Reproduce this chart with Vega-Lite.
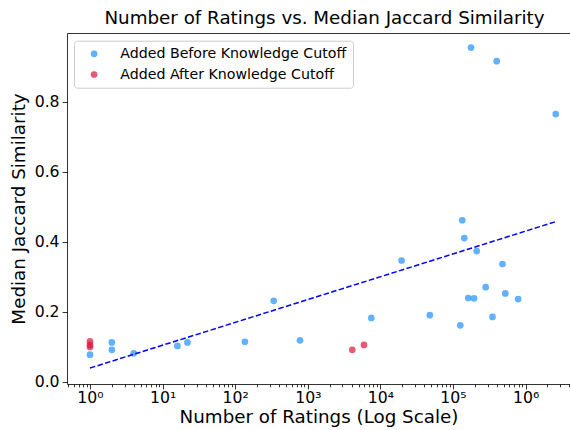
{
  "$schema": "https://vega.github.io/schema/vega-lite/v6.json",
  "usermeta": {"embedOptions": {"actions": false}},
  "width": 503,
  "height": 351,
  "autosize": {"type": "none"},
  "padding": {"left": 67, "top": 33, "right": 0, "bottom": 46},
  "background": "white",
  "title": {
    "text": "Number of Ratings vs. Median Jaccard Similarity",
    "font": "DejaVu Sans",
    "fontSize": 18.3,
    "fontWeight": "normal",
    "color": "black",
    "offset": 5,
    "dx": 6
  },
  "config": {
    "view": {"stroke": null},
    "axis": {
      "labelFont": "DejaVu Sans",
      "titleFont": "DejaVu Sans",
      "labelColor": "black",
      "titleColor": "black",
      "tickColor": "black",
      "domainColor": "black",
      "domainWidth": 0.8,
      "tickWidth": 0.8,
      "titleFontWeight": "normal",
      "grid": false
    }
  },
  "datasets": {
    "points": [
      {"ratings": 1, "similarity": 0.077, "group": "Added Before Knowledge Cutoff"},
      {"ratings": 2, "similarity": 0.112, "group": "Added Before Knowledge Cutoff"},
      {"ratings": 2, "similarity": 0.091, "group": "Added Before Knowledge Cutoff"},
      {"ratings": 4, "similarity": 0.081, "group": "Added Before Knowledge Cutoff"},
      {"ratings": 16, "similarity": 0.102, "group": "Added Before Knowledge Cutoff"},
      {"ratings": 22, "similarity": 0.112, "group": "Added Before Knowledge Cutoff"},
      {"ratings": 136, "similarity": 0.114, "group": "Added Before Knowledge Cutoff"},
      {"ratings": 339, "similarity": 0.231, "group": "Added Before Knowledge Cutoff"},
      {"ratings": 781, "similarity": 0.118, "group": "Added Before Knowledge Cutoff"},
      {"ratings": 7500, "similarity": 0.182, "group": "Added Before Knowledge Cutoff"},
      {"ratings": 19600, "similarity": 0.346, "group": "Added Before Knowledge Cutoff"},
      {"ratings": 48000, "similarity": 0.19, "group": "Added Before Knowledge Cutoff"},
      {"ratings": 126000, "similarity": 0.161, "group": "Added Before Knowledge Cutoff"},
      {"ratings": 134000, "similarity": 0.461, "group": "Added Before Knowledge Cutoff"},
      {"ratings": 143000, "similarity": 0.41, "group": "Added Before Knowledge Cutoff"},
      {"ratings": 162000, "similarity": 0.239, "group": "Added Before Knowledge Cutoff"},
      {"ratings": 177000, "similarity": 0.954, "group": "Added Before Knowledge Cutoff"},
      {"ratings": 195000, "similarity": 0.238, "group": "Added Before Knowledge Cutoff"},
      {"ratings": 212000, "similarity": 0.373, "group": "Added Before Knowledge Cutoff"},
      {"ratings": 282000, "similarity": 0.27, "group": "Added Before Knowledge Cutoff"},
      {"ratings": 350000, "similarity": 0.185, "group": "Added Before Knowledge Cutoff"},
      {"ratings": 400000, "similarity": 0.915, "group": "Added Before Knowledge Cutoff"},
      {"ratings": 480000, "similarity": 0.336, "group": "Added Before Knowledge Cutoff"},
      {"ratings": 525000, "similarity": 0.252, "group": "Added Before Knowledge Cutoff"},
      {"ratings": 790000, "similarity": 0.236, "group": "Added Before Knowledge Cutoff"},
      {"ratings": 2600000, "similarity": 0.764, "group": "Added Before Knowledge Cutoff"},
      {"ratings": 1, "similarity": 0.115, "group": "Added After Knowledge Cutoff"},
      {"ratings": 1, "similarity": 0.105, "group": "Added After Knowledge Cutoff"},
      {"ratings": 1, "similarity": 0.099, "group": "Added After Knowledge Cutoff"},
      {"ratings": 4100, "similarity": 0.091, "group": "Added After Knowledge Cutoff"},
      {"ratings": 5940, "similarity": 0.105, "group": "Added After Knowledge Cutoff"}
    ],
    "fit": [
      {"ratings": 1, "similarity": 0.039},
      {"ratings": 2600000, "similarity": 0.457}
    ]
  },
  "layer": [
    {
      "data": {"name": "points"},
      "mark": {"type": "circle", "size": 45, "opacity": 0.7},
      "encoding": {
        "x": {
          "field": "ratings",
          "type": "quantitative",
          "scale": {"type": "log", "domain": [0.4822, 4089000], "nice": false},
          "axis": {
            "orient": "bottom",
            "title": "Number of Ratings (Log Scale)",
            "titleFontSize": 18.3,
            "titlePadding": 3,
            "values": [1, 10, 100, 1000, 10000, 100000, 1000000],
            "labelExpr": "'10' + ['⁰','¹','²','³','⁴','⁵','⁶'][round(log(datum.value)/LN10)]",
            "labelFontSize": 15.7,
            "labelPadding": 2,
            "tickSize": 4.9,
            "domain": true,
            "labelFlush": false,
            "labelOverlap": false
          }
        },
        "y": {
          "field": "similarity",
          "type": "quantitative",
          "scale": {"domain": [-0.0066, 0.9956], "nice": false, "zero": false},
          "axis": {
            "title": "Median Jaccard Similarity",
            "titleFontSize": 18.3,
            "titlePadding": 6,
            "values": [0, 0.2, 0.4, 0.6, 0.8],
            "format": ".1f",
            "labelFontSize": 15.7,
            "labelPadding": 3,
            "tickSize": 4.9,
            "domain": true,
            "labelFlush": false
          }
        },
        "color": {
          "field": "group",
          "type": "nominal",
          "scale": {
            "domain": ["Added Before Knowledge Cutoff", "Added After Knowledge Cutoff"],
            "range": ["#1e90ff", "#dc143c"]
          },
          "legend": {
            "title": null,
            "orient": "none",
            "legendX": 7,
            "legendY": 7.7,
            "padding": 6,
            "strokeColor": "#cccccc",
            "fillColor": "rgba(255,255,255,0.8)",
            "cornerRadius": 3,
            "labelFont": "DejaVu Sans",
            "labelFontSize": 14.2,
            "labelColor": "black",
            "labelLimit": 0,
            "symbolType": "circle",
            "symbolSize": 45,
            "symbolOpacity": 0.7,
            "symbolStrokeWidth": 0,
            "symbolOffset": 7,
            "labelOffset": 19,
            "rowPadding": 5.7
          }
        }
      }
    },
    {
      "data": {"name": "points"},
      "mark": {"type": "circle", "opacity": 0},
      "encoding": {
        "x": {
          "field": "ratings",
          "type": "quantitative",
          "scale": {"type": "log", "domain": [0.4822, 4089000], "nice": false},
          "axis": {
            "orient": "bottom",
            "title": null,
            "labels": false,
            "domain": false,
            "tickSize": 2.8,
            "values": [0.5, 0.6, 0.7, 0.8, 0.9, 2, 3, 4, 5, 6, 7, 8, 9, 20, 30, 40, 50, 60, 70, 80, 90, 200, 300, 400, 500, 600, 700, 800, 900, 2000, 3000, 4000, 5000, 6000, 7000, 8000, 9000, 20000, 30000, 40000, 50000, 60000, 70000, 80000, 90000, 200000, 300000, 400000, 500000, 600000, 700000, 800000, 900000, 2000000, 3000000, 4000000]
          }
        },
        "y": {"field": "similarity", "type": "quantitative"}
      }
    },
    {
      "data": {"name": "fit"},
      "mark": {"type": "line", "color": "#0000ff", "strokeWidth": 1.5, "strokeDash": [5.5, 2.4]},
      "encoding": {
        "x": {
          "field": "ratings",
          "type": "quantitative",
          "scale": {"type": "log", "domain": [0.4822, 4089000], "nice": false},
          "axis": {
            "orient": "top",
            "title": null,
            "labels": false,
            "ticks": false,
            "domain": true
          }
        },
        "y": {"field": "similarity", "type": "quantitative"}
      }
    }
  ],
  "resolve": {"axis": {"x": "independent"}}
}
